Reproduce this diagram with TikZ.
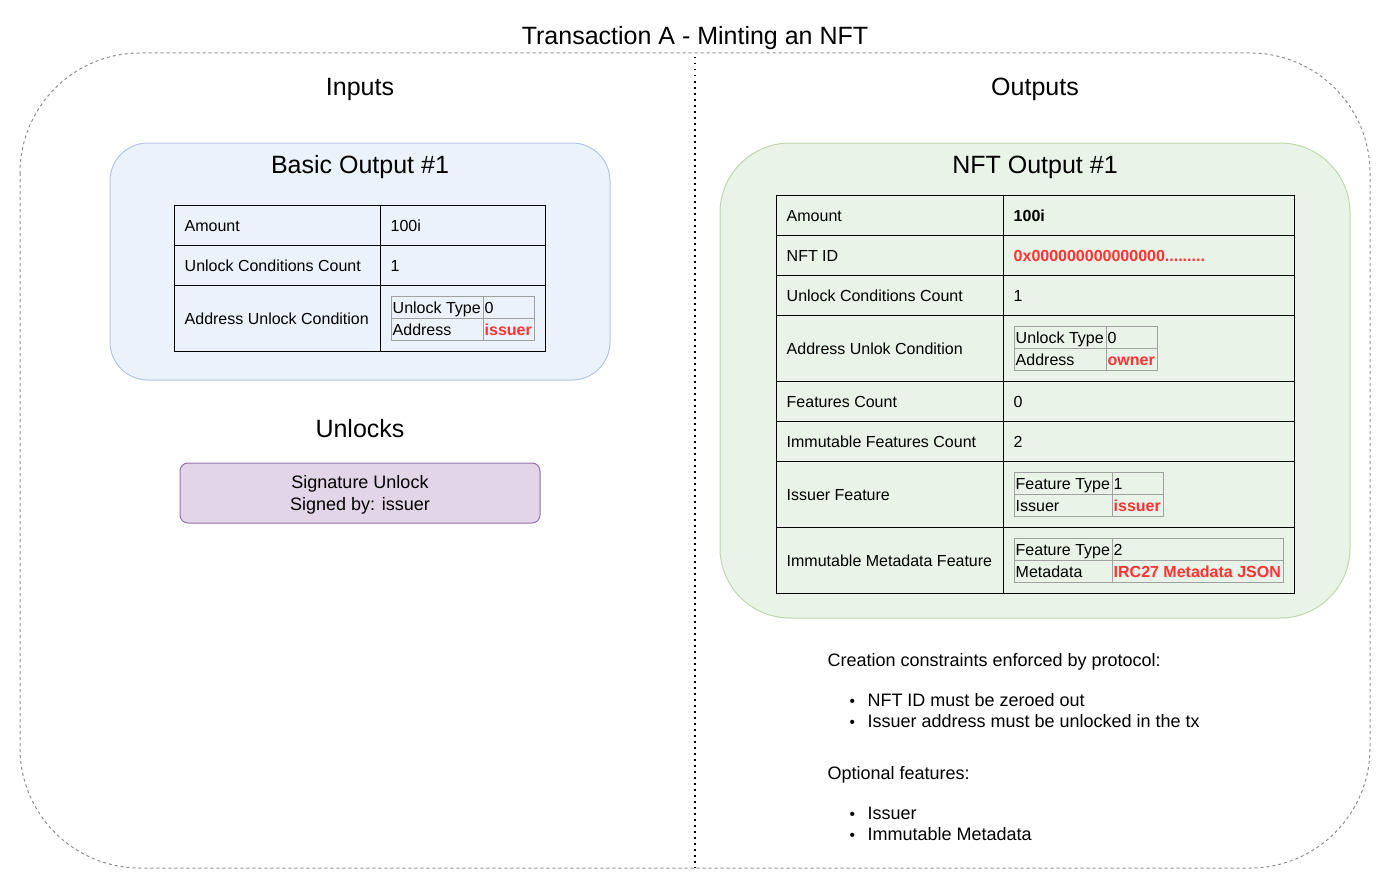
\documentclass[tikz,border=0pt]{standalone}
\usepackage{fontspec}
\setmainfont{Liberation Sans}

\definecolor{inputfill}{HTML}{ECF2FC}
\definecolor{inputdraw}{HTML}{B2C6E3}
\definecolor{outputfill}{HTML}{E9F3E8}
\definecolor{outputdraw}{HTML}{BDD8AE}
\definecolor{unlockfill}{HTML}{E1D5E7}
\definecolor{unlockdraw}{HTML}{9673A6}
\definecolor{valred}{HTML}{FF3333}
\definecolor{framegray}{HTML}{8F8F8F}
\definecolor{subgray}{HTML}{A0A0A0}

\tikzset{
	heading/.style={inner sep=0pt, font=\fontsize{25}{30}\selectfont, text height=17.9pt, text depth=0pt},
	cell/.style={anchor=west, inner sep=0pt, xshift=-0.8pt, yshift=-0.8pt, font=\fontsize{16}{19}\selectfont, text height=11.5pt, text depth=0pt},
	redval/.style={cell, text=valred, font=\fontsize{16}{19}\selectfont\bfseries},
	note/.style={anchor=west, inner sep=0pt, font=\fontsize{18}{22}\selectfont, text height=12.9pt, text depth=0pt},
	dot/.style={note, font=\fontsize{15.5}{18}\selectfont},
	subtable/.style={draw=subgray, line width=1pt}
}

\begin{document}
\begin{tikzpicture}[x=1pt,y=-1pt,line width=1pt]
		\useasboundingbox (0,0) rectangle (1392,891);

		% transaction frame and divider
		\draw[framegray, dash pattern=on 3pt off 3pt, rounded corners=120pt] (20,53) rectangle (1370,868);
		\draw[dash pattern=on 1.5pt off 4.5pt, line width=1.3pt] (695,57) -- (695,868);

		\node[heading] (txtitle) at (695,36) {Transaction A - Minting an NFT};
		\node[heading] (inputs) at (360,87) {Inputs};
		\node[heading] (outputs) at (1035,87) {Outputs};

		% basic output
		\draw[inputdraw, fill=inputfill, rounded corners=38pt] (110,143) rectangle (610,380);
		\node[heading] (basictitle) at (360,165) {Basic Output \#1};

		\draw (174,205) rectangle (545,351);
		\draw (380,205) -- (380,351);
		\draw (174,245) -- (545,245);
		\draw (174,285) -- (545,285);

		\node[cell] (bamount) at (185,225) {Amount};
		\node[cell] (bamountv) at (391,225) {100i};
		\node[cell] (bcount) at (185,265) {Unlock Conditions Count};
		\node[cell] (bcountv) at (391,265) {1};
		\node[cell] (baddr) at (185,318) {Address Unlock Condition};

		\draw[subtable] (391,296) rectangle (534,340);
		\draw[subtable] (483,296) -- (483,340);
		\draw[subtable] (391,318) -- (534,318);
		\node[cell] (btype) at (393,307) {Unlock Type};
		\node[cell] (btypev) at (485,307) {0};
		\node[cell] (baddress) at (393,329) {Address};
		\node[redval] (baddressv) at (485,329) {issuer};

		% unlocks
		\node[heading] (unlocks) at (360,429) {Unlocks};
		\draw[unlockdraw, fill=unlockfill, rounded corners=8pt] (180,463) rectangle (540,523);
		\node[inner sep=0pt, align=center, font=\fontsize{18}{22}\selectfont] (sigunlock) at (360,495) {Signature Unlock\\Signed by: issuer};

		% nft output
		\draw[outputdraw, fill=outputfill, rounded corners=70pt] (720,143) rectangle (1350,618);
		\node[heading] (nfttitle) at (1035,165) {NFT Output \#1};

		\draw (776,195) rectangle (1294,593);
		\draw (1003,195) -- (1003,593);
		\draw (776,235) -- (1294,235);
		\draw (776,275) -- (1294,275);
		\draw (776,315) -- (1294,315);
		\draw (776,381) -- (1294,381);
		\draw (776,421) -- (1294,421);
		\draw (776,461) -- (1294,461);
		\draw (776,527) -- (1294,527);

		\node[cell] (namount) at (787,215) {Amount};
		\node[cell, font=\fontsize{16}{19}\selectfont\bfseries] (namountv) at (1014,215) {100i};
		\node[cell] (nid) at (787,255) {NFT ID};
		\node[redval] (nidv) at (1014,255) {0x000000000000000.........};
		\node[cell] (ncount) at (787,295) {Unlock Conditions Count};
		\node[cell] (ncountv) at (1014,295) {1};
		\node[cell] (naddr) at (787,348) {Address Unlok Condition};
		\node[cell] (nfeat) at (787,401) {Features Count};
		\node[cell] (nfeatv) at (1014,401) {0};
		\node[cell] (nimm) at (787,441) {Immutable Features Count};
		\node[cell] (nimmv) at (1014,441) {2};
		\node[cell] (nissuer) at (787,494) {Issuer Feature};
		\node[cell] (nmeta) at (787,560) {Immutable Metadata Feature};

		\draw[subtable] (1014,326) rectangle (1157,370);
		\draw[subtable] (1106,326) -- (1106,370);
		\draw[subtable] (1014,348) -- (1157,348);
		\node[cell] (ntype) at (1016,337) {Unlock Type};
		\node[cell] (ntypev) at (1108,337) {0};
		\node[cell] (naddress) at (1016,359) {Address};
		\node[redval] (naddressv) at (1108,359) {owner};

		\draw[subtable] (1014,472) rectangle (1163,516);
		\draw[subtable] (1112,472) -- (1112,516);
		\draw[subtable] (1014,494) -- (1163,494);
		\node[cell] (iftype) at (1016,483) {Feature Type};
		\node[cell] (iftypev) at (1114,483) {1};
		\node[cell] (ifissuer) at (1016,505) {Issuer};
		\node[redval] (ifissuerv) at (1114,505) {issuer};

		\draw[subtable] (1014,538) rectangle (1283,582);
		\draw[subtable] (1112,538) -- (1112,582);
		\draw[subtable] (1014,560) -- (1283,560);
		\node[cell] (mftype) at (1016,549) {Feature Type};
		\node[cell] (mftypev) at (1114,549) {2};
		\node[cell] (mfmeta) at (1016,571) {Metadata};
		\node[redval] (mfmetav) at (1114,571) {IRC27 Metadata JSON};

		% notes
		\node[note] (constraints) at (827,660) {Creation constraints enforced by protocol:};
		\node[dot] (bulleta) at (849,700) {\textbullet};
		\node[note] (itema) at (867,700) {NFT ID must be zeroed out};
		\node[dot] (bulletb) at (849,721) {\textbullet};
		\node[note] (itemb) at (867,721) {Issuer address must be unlocked in the tx};
		\node[note] (optional) at (827,773) {Optional features:};
		\node[dot] (bulletc) at (849,813) {\textbullet};
		\node[note] (itemc) at (867,813) {Issuer};
		\node[dot] (bulletd) at (849,834) {\textbullet};
		\node[note] (itemd) at (867,834) {Immutable Metadata};
	\end{tikzpicture}
\end{document}
